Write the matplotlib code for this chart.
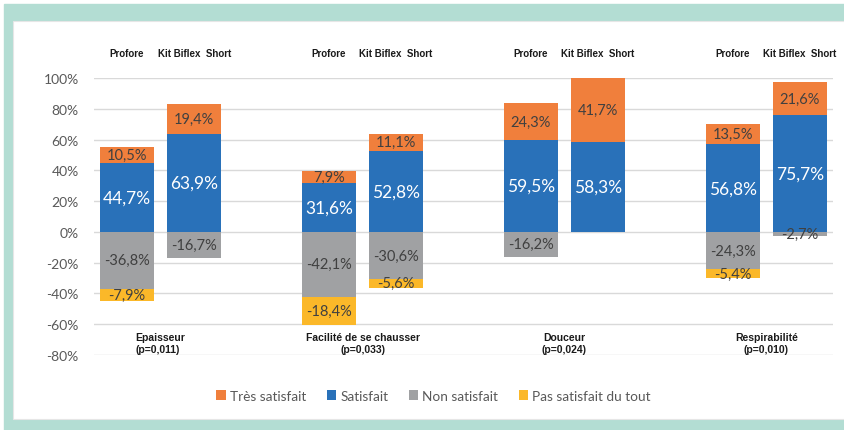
import numpy as np
import matplotlib.pyplot as plt
from matplotlib.patches import Rectangle

criteria = ['Epaisseur\n(p=0,011)', 'Facilité de se chausser\n(p=0,033)',
            'Douceur\n(p=0,024)', 'Respirabilité\n(p=0,010)']
products = ['Profore', 'Kit Biflex  Short']
series = ['Très satisfait', 'Satisfait', 'Non satisfait', 'Pas satisfait du tout']

# one value per bar, order: (crit1 Profore, crit1 Kit, crit2 Profore, ...)
tres_satisfait = [10.5, 19.4, 7.9, 11.1, 24.3, 41.7, 13.5, 21.6]
satisfait = [44.7, 63.9, 31.6, 52.8, 59.5, 58.3, 56.8, 75.7]
non_satisfait = [-36.8, -16.7, -42.1, -30.6, -16.2, 0, -24.3, -2.7]
pas_satisfait = [-7.9, 0, -18.4, -5.6, 0, 0, -5.4, 0]

colors = ['#f07f3c', '#2971b9', '#a0a1a3', '#fbb829']
label_colors = ['#404040', 'white', '#404040', '#404040']
label_sizes = [10.5, 12.5, 10.5, 10.5]

plt.rcParams['font.family'] = ['Lato', 'DejaVu Sans']
narrow = ['Liberation Sans Narrow', 'Liberation Sans', 'DejaVu Sans']

fig = plt.figure(figsize=(8.45, 4.31), dpi=100)
W, H = 845, 431
# teal frame and white panel
fig.patches.append(Rectangle((4 / W, 0), 1, 1 - 5 / H, transform=fig.transFigure,
                             color='#b3ddd3', zorder=-10))
fig.patches.append(Rectangle((13 / W, 11 / H), 1.1, (420 - 22) / H, transform=fig.transFigure,
                             facecolor='white', edgecolor='#e6e6e6', lw=0.8, zorder=-9))

ax = fig.add_axes([94 / W, 1 - 356 / H, (833 - 94) / W, (356 - 79) / H])

n_groups = len(criteria)
offset = 0.166
width = 0.267
x = []
for g in range(n_groups):
    x += [g - offset, g + offset]
x = np.array(x)

pos = np.zeros(len(x))
neg = np.zeros(len(x))
order = [(1, satisfait), (0, tres_satisfait), (2, non_satisfait), (3, pas_satisfait)]
bars = {}
for idx, vals in order:
    vals = np.array(vals, dtype=float)
    bottom = np.where(vals >= 0, pos, neg)
    b = ax.bar(x, vals, width, bottom=bottom, color=colors[idx], zorder=2)
    bars[idx] = b
    for xi, v, bt in zip(x, vals, bottom):
        if v != 0:
            ax.text(xi, bt + v / 2, f"{v:.1f}%".replace('.', ','), ha='center', va='center',
                    color=label_colors[idx], fontsize=label_sizes[idx], zorder=3)
    pos = pos + np.where(vals >= 0, vals, 0)
    neg = neg + np.where(vals < 0, vals, 0)

ax.set_xlim(-0.33, n_groups - 1 + 0.33)
ax.set_ylim(-80, 100)
ax.set_yticks(np.arange(-80, 101, 20))
ax.set_yticklabels([f"{t}%" for t in range(-80, 101, 20)], color='#595959', fontsize=10)
ax.set_xticks([])
ax.tick_params(axis='y', length=0, pad=11)
ax.grid(axis='y', color='#d9d9d9', lw=1, zorder=0)
for s in ax.spines.values():
    s.set_visible(False)

# product names above bars
for i, xi in enumerate(x):
    ax.text(xi, 116, products[i % 2], ha='center', va='center', fontsize=7,
            fontweight='bold', family=narrow, color='#1a1a1a', clip_on=False)

# criteria names below
for g, c in enumerate(criteria):
    ma = 'left' if g == 0 else 'center'
    ax.text(g, -72.5, c, ha='center', va='center', fontsize=7.5, fontweight='bold',
            family=narrow, color='#1a1a1a', multialignment=ma, linespacing=1.25)

fig.legend([bars[i] for i in range(4)], series, loc='center', bbox_to_anchor=(0.513, 0.08),
           ncol=4, frameon=False, fontsize=9.8, handlelength=0.7, handleheight=0.7,
           handletextpad=0.3, columnspacing=1.5, labelcolor='#595959')

fig.savefig('out.png', dpi=100)
